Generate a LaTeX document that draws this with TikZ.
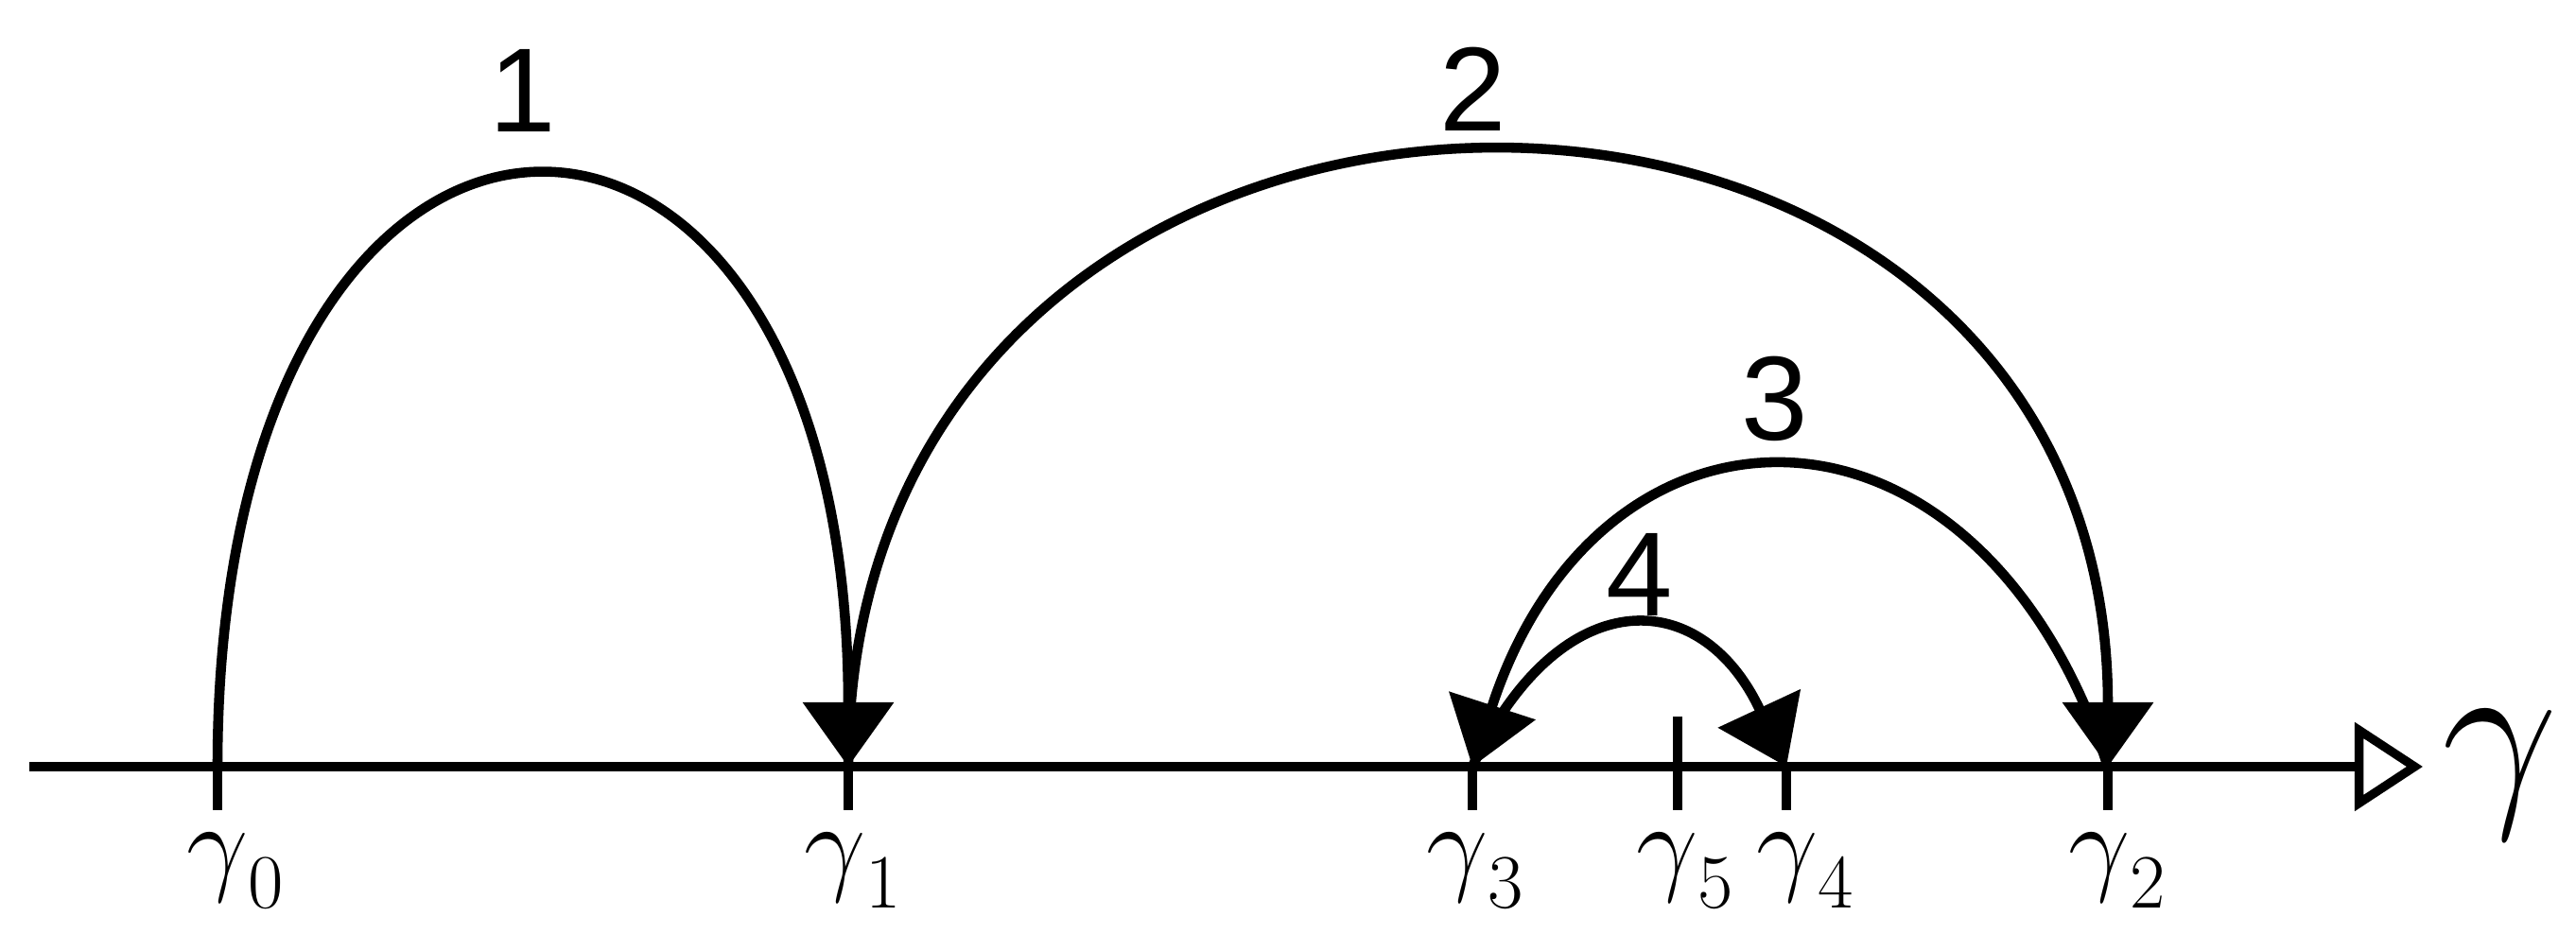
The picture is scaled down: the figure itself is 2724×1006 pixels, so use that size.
\RequirePackage{fix-cm}
\documentclass[tikz,border=0pt]{standalone}
\usepackage{fontspec}
\newfontfamily\numfont{Liberation Sans}
\usetikzlibrary{arrows.meta}

\begin{document}
\begin{tikzpicture}[
  x=0.01cm, y=0.01cm,
  axisline/.style={line width=2.65pt, -{Triangle[open,length=0.72cm,width=0.92cm]}},
  tickmark/.style={line width=2.65pt},
  jump/.style={line width=3pt, -{Triangle[length=0.68cm,width=0.94cm]}},
  pointlabel/.style={anchor=base, inner sep=0pt, font=\fontsize{33}{40}\selectfont},
  steplabel/.style={anchor=base, inner sep=0pt, font=\numfont\fontsize{36}{40}\selectfont},
]
\useasboundingbox (0,0) rectangle (2724,1006);
\coordinate (start) at (31,195);
\coordinate (end) at (2562,195);
\draw[axisline] (start) -- (end);
\node[pointlabel, font=\fontsize{62}{70}\selectfont] (gamma) at (2644,160) {$\gamma$};
% points on the axis
\foreach \k/\x/\lx in {0/230/230,1/897/883,3/1557/1541,5/1774/1763,4/1889/1890,2/2229/2220}
{
  \coordinate (g\k) at (\x,195);
  \draw[tickmark] (g\k) -- ++(0,-46);
  \node[pointlabel] (lg\k) at (\lx,74) {$\gamma$\rlap{\raisebox{-0.28cm}{$\scriptstyle\k$}}};
}
\draw[tickmark] (g5) -- ++(0,53);
% jumps
\draw[jump] (g0) .. controls +(0,828) and +(0,828) .. (g1);
\draw[jump] (g1) .. controls +(0,862) and +(0,862) .. (g2);
\draw[jump] (g2) .. controls +(108:440) and +(72:440) .. (g3);
\draw[jump] (g3) .. controls +(65:215) and +(115:215) .. (g4);
\node[steplabel] (n1) at (553,866) {1};
\node[steplabel] (n2) at (1558,867) {2};
\node[steplabel] (n3) at (1877,540) {3};
\node[steplabel] (n4) at (1734,354) {4};
\end{tikzpicture}
\end{document}
